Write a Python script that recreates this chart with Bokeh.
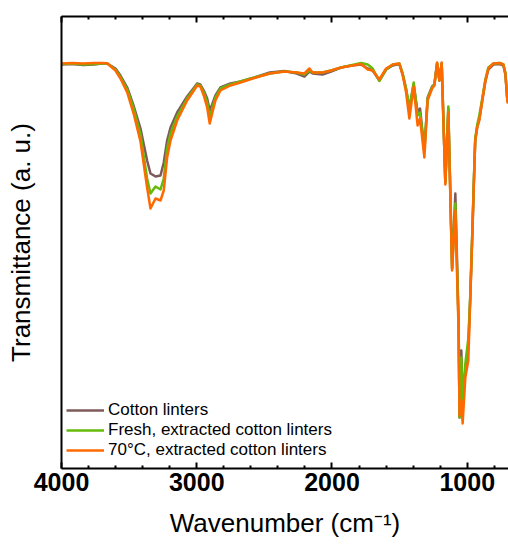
from bokeh.plotting import figure
from bokeh.models import Range1d, LinearAxis, Legend, LegendItem, FixedTicker
from bokeh.embed import file_html
from bokeh.resources import INLINE

# Wavenumber (cm^-1)
wavenumber = [4000, 3920, 3840, 3760, 3700, 3662, 3601, 3564, 3514, 3465,
              3416, 3367, 3342, 3305, 3268, 3244, 3219, 3194, 3145, 3071,
              2997, 2973, 2948, 2923, 2904, 2886, 2862, 2825, 2751, 2677,
              2574, 2460, 2352, 2260, 2204, 2167, 2143, 2070, 2007, 1933,
              1850, 1785, 1736, 1699, 1650, 1600, 1551, 1502, 1477, 1452,
              1428, 1396, 1367, 1349, 1317, 1293, 1260, 1243, 1223, 1206,
              1189, 1162, 1140, 1112, 1088, 1064, 1057, 1044, 1034, 1014,
              992, 978, 963, 948, 941, 926, 911, 889, 866, 844,
              807, 760, 733, 718, 703, 695]

# Transmittance (a. u.)
cotton_linters = [404, 404.5, 403.5, 404, 405, 405, 400, 393, 381, 362,
                  340, 308, 295, 292, 293, 306, 328, 341, 356, 372,
                  385, 384, 378, 370, 358, 364, 373, 381, 385, 387,
                  391, 396, 397.5, 395, 392, 397, 395, 394, 397, 401,
                  403, 404, 400, 398, 388, 399, 403, 404.5, 394, 379,
                  360, 384, 356, 360, 318, 371, 382, 384, 405, 388,
                  405, 286, 360, 200, 275, 148, 51, 118, 73, 98,
                  123, 170, 233, 300, 328, 342, 349, 368, 387, 399,
                  404, 404.5, 403, 394, 368, 380]

fresh_extracted = [404.5, 405, 404, 404.5, 405, 405, 399, 391.5, 379, 359,
                   334, 290, 275, 282, 279, 290, 320, 335, 352, 370,
                   384, 383, 376, 366, 351, 360, 371, 380, 384, 387,
                   391, 395, 397, 396, 394, 398, 396, 396, 398, 401,
                   403.5, 405.5, 404, 400, 387.5, 399, 404, 405, 395, 380,
                   360, 386, 353, 356, 318, 370, 381, 384, 405, 388,
                   405, 286, 362, 200, 265, 143, 51, 111, 68, 105,
                   130, 172, 236, 302, 330, 344, 353, 370, 389, 401,
                   405, 405.5, 404, 396, 368, 380]

extracted_70c = [405, 405.5, 405, 405.5, 405.5, 405.3, 398, 390, 376, 354,
                 327, 281, 260, 270, 268, 278, 311, 328, 348, 368,
                 383, 382, 373, 361, 345, 355, 368, 378, 383, 386,
                 390.5, 395, 397, 396, 395, 400, 396, 396, 398, 401,
                 403, 404.5, 399, 398, 389, 400, 404, 405, 393, 376,
                 350, 382, 343, 350, 311, 368, 380, 383, 406, 388,
                 406, 284, 356, 198, 258, 138, 53, 68, 45, 91,
                 108, 168, 231, 298, 328, 341, 348, 368, 388, 400,
                 405, 405.5, 404, 395, 366, 378]

series_labels = ["Cotton linters", "Fresh, extracted cotton linters",
                 "70°C, extracted cotton linters"]
series_colors = ["#7E5A5A", "#66BB0A", "#FF6A00"]

major_ticks = [4000, 3000, 2000, 1000]
minor_ticks = [3800, 3600, 3400, 3200, 2800, 2600, 2400, 2200,
               1800, 1600, 1400, 1200, 800]

FONT = "Liberation Sans"

p = figure(width=508, height=547, output_backend="svg", toolbar_location=None,
           x_range=Range1d(4000, 695), y_range=Range1d(0, 452),
           min_border_left=61, min_border_right=0, min_border_top=16,
           min_border_bottom=79, x_axis_location=None, y_axis_location=None)
p.outline_line_color = None
p.xgrid.visible = False
p.ygrid.visible = False
p.background_fill_color = "white"
p.border_fill_color = "white"

def make_ticker():
    return FixedTicker(ticks=major_ticks, minor_ticks=minor_ticks)

bottom = LinearAxis(ticker=make_ticker(), axis_label="Wavenumber (cm⁻¹)")
bottom.axis_line_width = 2
bottom.major_tick_in = 6
bottom.major_tick_out = 0
bottom.minor_tick_in = 3
bottom.minor_tick_out = 0
bottom.major_tick_line_width = 2
bottom.minor_tick_line_width = 2
bottom.major_label_text_font = FONT
bottom.major_label_text_font_style = "bold"
bottom.major_label_text_font_size = "25px"
bottom.major_label_text_color = "black"
bottom.major_label_standoff = 4
bottom.axis_label_text_font = FONT
bottom.axis_label_text_font_style = "normal"
bottom.axis_label_text_font_size = "26px"
bottom.axis_label_text_color = "black"
bottom.axis_label_standoff = 14
p.add_layout(bottom, "below")

top = LinearAxis(ticker=make_ticker(),
                 major_label_overrides={t: "" for t in major_ticks})
top.axis_line_width = 2
top.major_tick_in = 6
top.major_tick_out = 0
top.minor_tick_in = 3
top.minor_tick_out = 0
top.major_tick_line_width = 2
top.minor_tick_line_width = 2
top.major_label_text_font_size = "1px"
top.major_label_standoff = 0
p.add_layout(top, "above")

left = LinearAxis(ticker=FixedTicker(ticks=[]), axis_label="Transmittance (a. u.)")
left.axis_line_width = 2
left.major_tick_in = 0
left.major_tick_out = 0
left.minor_tick_in = 0
left.minor_tick_out = 0
left.axis_label_text_font = FONT
left.axis_label_text_font_style = "normal"
left.axis_label_text_font_size = "26px"
left.axis_label_text_color = "black"
left.axis_label_standoff = 26
p.add_layout(left, "left")

renderers = []
for ys, c in zip([cotton_linters, fresh_extracted, extracted_70c], series_colors):
    r = p.line(wavenumber, ys, line_color=c, line_width=2.5, line_join="round")
    renderers.append(r)

legend = Legend(items=[LegendItem(label=lab, renderers=[r])
                       for lab, r in zip(series_labels, renderers)],
                location=(5, 8), margin=0, padding=0, spacing=0,
                glyph_width=38, glyph_height=20, label_height=20,
                label_standoff=4, label_text_font=FONT,
                label_text_font_size="17px", label_text_color="black",
                background_fill_alpha=0, border_line_color=None)
p.add_layout(legend)

open("out.html", "w").write(file_html(p, INLINE))
